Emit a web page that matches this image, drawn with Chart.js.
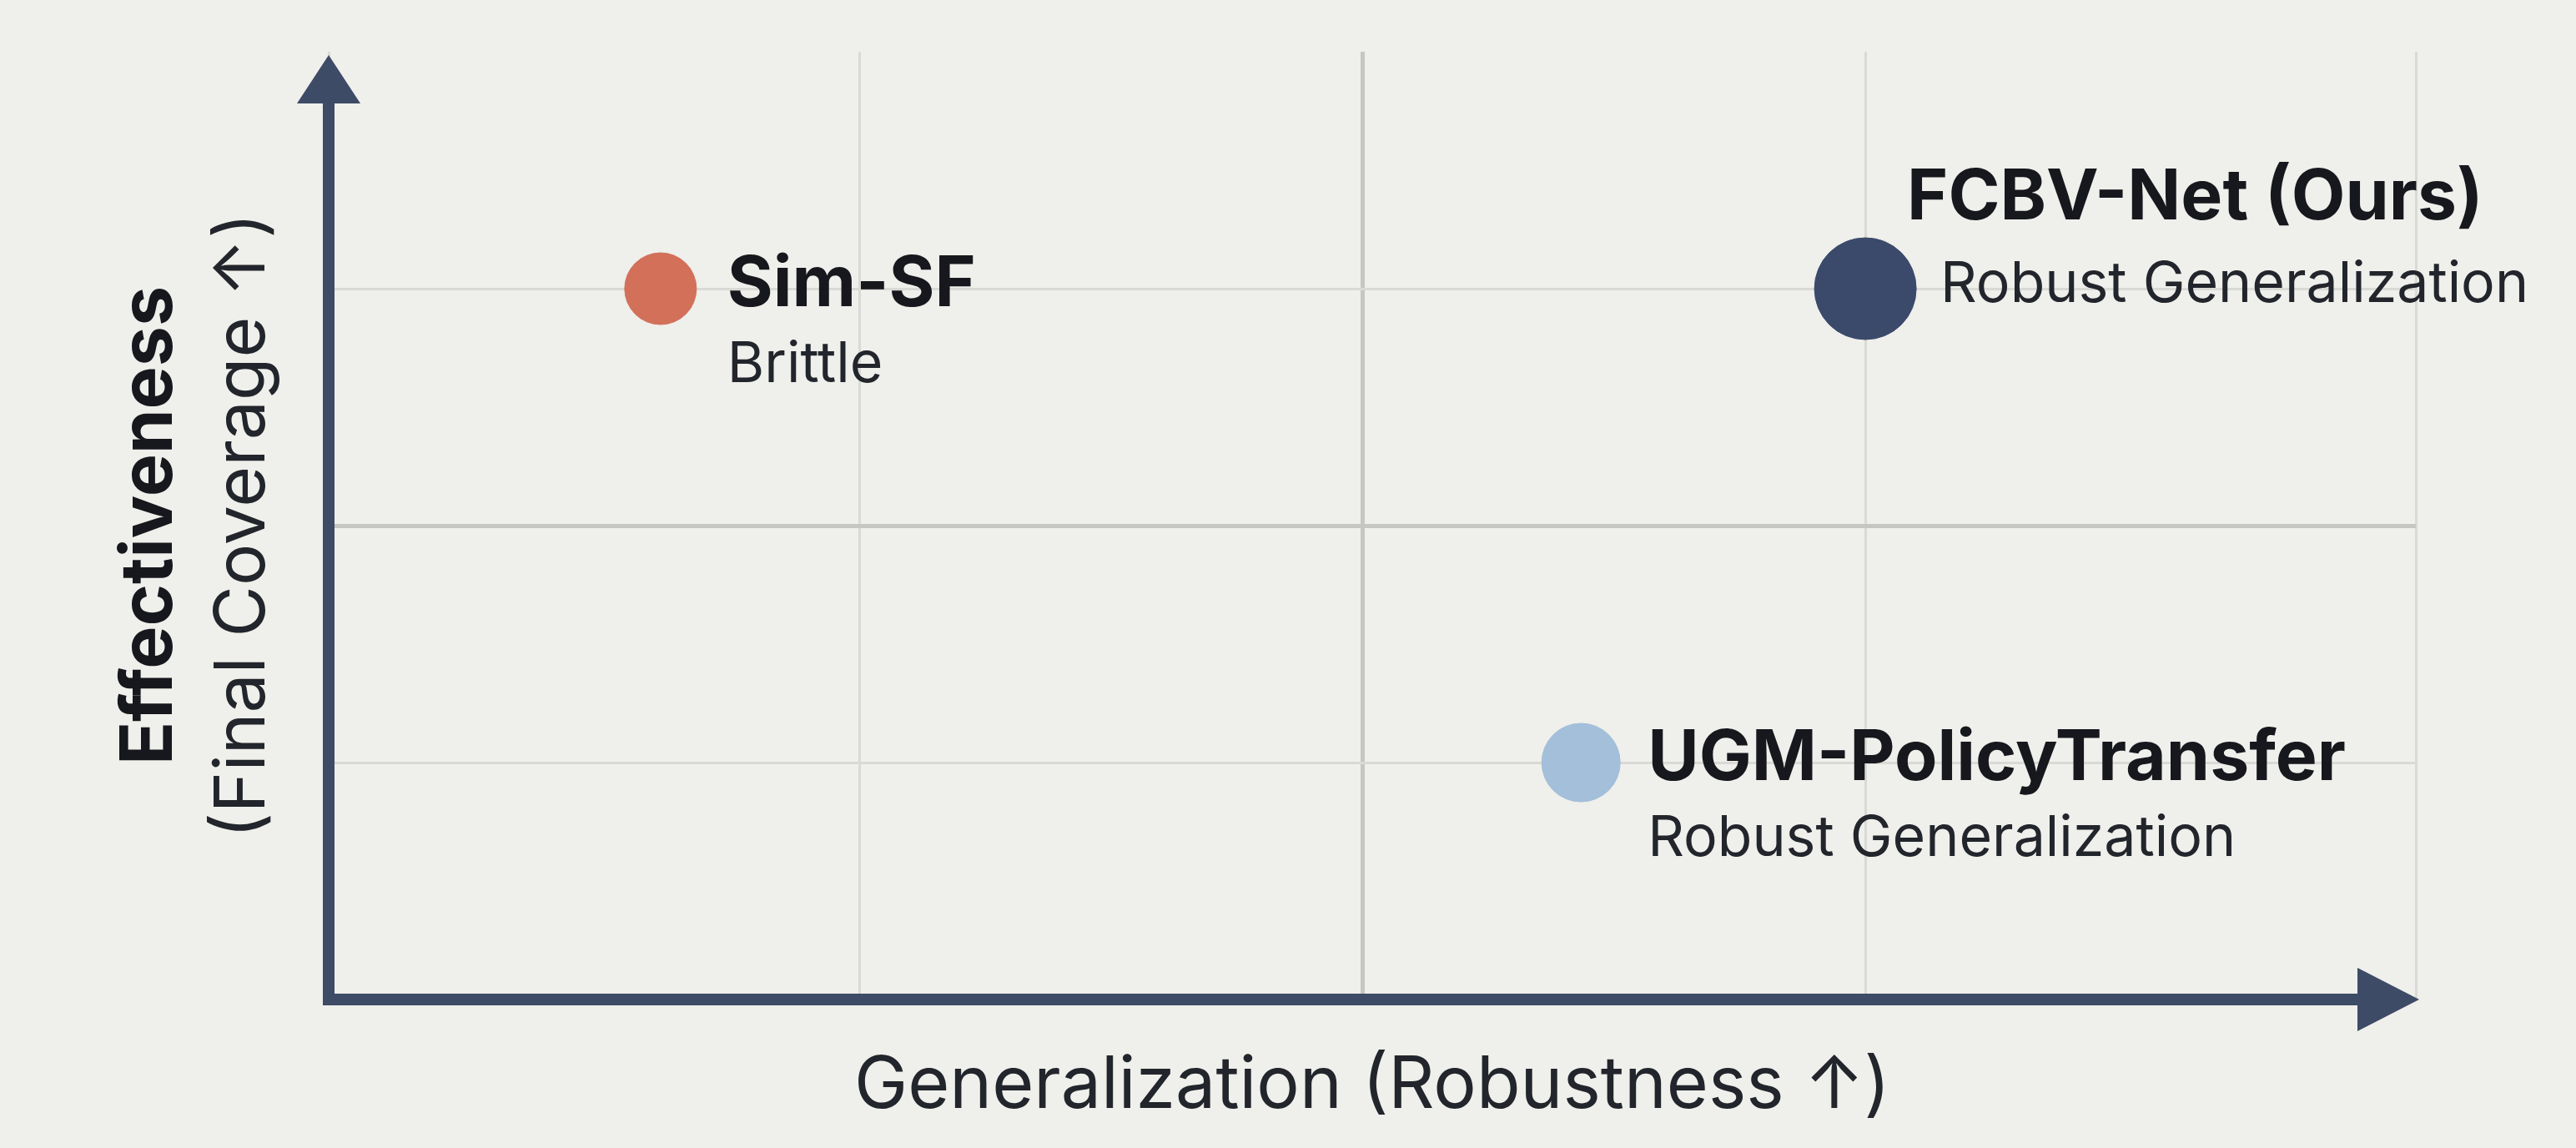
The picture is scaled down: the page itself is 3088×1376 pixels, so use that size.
<!DOCTYPE html>
<html><head><meta charset="utf-8">
<script src="https://cdn.jsdelivr.net/npm/chart.js@4/dist/chart.umd.min.js"></script>
<style>html,body{margin:0;padding:0;background:#efefeb;}#w{width:3088px;height:1376px;}</style>
</head><body><div id="w"><canvas id="c"></canvas></div>
<script>
const methods = ["Sim-SF", "FCBV-Net (Ours)", "UGM-PolicyTransfer"];
const subtitles = ["Brittle", "Robust Generalization", "Robust Generalization"];
const generalization = [0.636, 2.945, 2.40];
const effectiveness = [3, 3, 1];
const xGridTicks = [0, 1.017, 1.981, 2.945, 4];
const yGridTicks = [0, 1, 2, 3, 4];
const colors = ["#d2705a", "#3b4a6b", "#a3bfd9"];
const radii = [43, 61, 47];
const labelPos = [[80, -4, 92, 80], [50, -108, -4, 90], [80, -4, 92, 80]];
const FONT = "Inter, 'Noto Sans', sans-serif";

const deco = {
  id: 'deco',
  beforeDraw(ch) {
    const c = ch.ctx; c.save(); c.fillStyle = '#efefeb'; c.fillRect(0, 0, ch.width, ch.height); c.restore();
  },
  afterDatasetsDraw(ch) {
    const c = ch.ctx, a = ch.chartArea, ys = ch.scales.y;
    c.save();
    const ax = '#3d4b66';
    c.strokeStyle = ax; c.fillStyle = ax; c.lineWidth = 14; c.lineCap = 'butt';
    const x0 = a.left, y0 = a.bottom;
    c.beginPath(); c.moveTo(x0, y0); c.lineTo(x0, 110); c.stroke();
    c.beginPath(); c.moveTo(x0 - 7, y0); c.lineTo(a.right - 60, y0); c.stroke();
    c.beginPath(); c.moveTo(x0, 66); c.lineTo(x0 - 38, 124); c.lineTo(x0 + 38, 124); c.closePath(); c.fill();
    c.beginPath(); c.moveTo(a.right + 4, y0); c.lineTo(a.right - 70, y0 - 38); c.lineTo(a.right - 70, y0 + 38); c.closePath(); c.fill();
    const meta = ch.getDatasetMeta(0);
    meta.data.forEach((p, i) => {
      const [dx, dyT, dyS, sdx] = labelPos[i];
      c.textBaseline = 'middle'; c.textAlign = 'left';
      c.fillStyle = '#16181d';
      c.font = 'bold 84px ' + FONT;
      c.fillText(methods[i], p.x + dx, p.y + dyT);
      c.fillStyle = '#22252b';
      c.font = '68px ' + FONT;
      c.fillText(subtitles[i], p.x + sdx, p.y + dyS);
    });
    c.fillStyle = '#22252b'; c.textAlign = 'center'; c.textBaseline = 'middle';
    c.font = '86px ' + FONT;
    c.fillText('Generalization (Robustness \u2191)', (a.left + a.right) / 2, 1302);
    c.save(); c.translate(180, ys.getPixelForValue(2)); c.rotate(-Math.PI / 2);
    c.font = 'bold 86px ' + FONT; c.fillStyle = '#16181d';
    c.fillText('Effectiveness', 0, 0);
    c.font = '84px ' + FONT; c.fillStyle = '#22252b';
    c.fillText('(Final Coverage \u2191)', 0, 112);
    c.restore();
    c.restore();
  }
};

new Chart(document.getElementById('c'), {
  type: 'scatter',
  data: { datasets: [{
    data: generalization.map((x, i) => ({ x, y: effectiveness[i] })),
    backgroundColor: colors, borderColor: colors, pointRadius: radii, pointHoverRadius: radii
  }]},
  options: {
    responsive: true, maintainAspectRatio: false, animation: false,
    layout: { padding: { left: 394, right: 192, top: 55, bottom: 178 } },
    plugins: { legend: { display: false }, tooltip: { enabled: false } },
    scales: {
      x: { min: 0, max: 4, ticks: { display: false }, border: { display: false },
           afterBuildTicks: s => { s.ticks = xGridTicks.map(v => ({ value: v })); },
           grid: { drawTicks: false, color: c => c.index === 2 ? '#c6c6c2' : '#d9d9d5', lineWidth: c => c.index === 2 ? 5 : 3 } },
      y: { min: 0, max: 4, ticks: { display: false }, border: { display: false },
           afterBuildTicks: s => { s.ticks = yGridTicks.map(v => ({ value: v })); },
           grid: { drawTicks: false, color: c => c.index === 4 ? 'rgba(0,0,0,0)' : (c.index === 2 ? '#c6c6c2' : '#d9d9d5'), lineWidth: c => c.index === 2 ? 5 : 3 } }
    }
  },
  plugins: [deco]
});
</script></body></html>
